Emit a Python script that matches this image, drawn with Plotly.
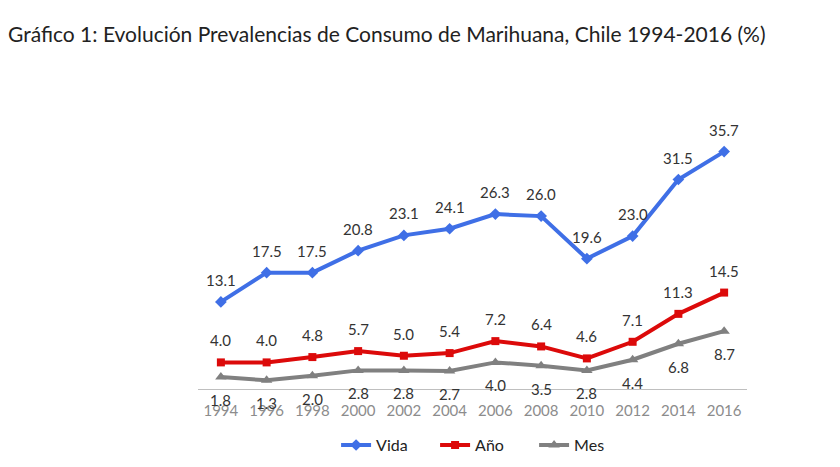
import plotly.graph_objects as go

years = ["1994", "1996", "1998", "2000", "2002", "2004", "2006", "2008", "2010", "2012", "2014", "2016"]
vida = [13.1, 17.5, 17.5, 20.8, 23.1, 24.1, 26.3, 26.0, 19.6, 23.0, 31.5, 35.7]
anio = [4.0, 4.0, 4.8, 5.7, 5.0, 5.4, 7.2, 6.4, 4.6, 7.1, 11.3, 14.5]
mes = [1.8, 1.3, 2.0, 2.8, 2.8, 2.7, 4.0, 3.5, 2.8, 4.4, 6.8, 8.7]

FONT = "Lato"
fig = go.Figure()
series = [
    ("Vida", vida, "#3f6fe6", "diamond", 9, 22),
    ("Año", anio, "#dc0a0a", "square", 8, 22),
    ("Mes", mes, "#808080", "triangle-up", 10, -23),
]
for name, vals, color, sym, msize, shift in series:
    fig.add_trace(go.Scatter(
        x=years, y=vals, name=name, mode="lines+markers",
        line=dict(color=color, width=4),
        marker=dict(symbol=sym, size=msize, color=color),
    ))
    for i, v in enumerate(vals):
        fig.add_annotation(x=i, y=v, text=f"{v:.1f}", showarrow=False,
                           yshift=shift, font=dict(family=FONT, size=15, color="#333333"))

fig.update_layout(
    width=840, height=467,
    paper_bgcolor="white", plot_bgcolor="white",
    margin=dict(l=190, r=101, t=115, b=86),
    title=dict(text="Gráfico 1: Evolución Prevalencias de Consumo de Marihuana, Chile 1994-2016 (%)",
               x=0.0, xanchor="left", y=0.943, yanchor="middle",
               font=dict(family=FONT, size=21, color="#222222")),
    xaxis=dict(type="category", categoryorder="array", categoryarray=years, range=[-0.5, 11.5],
               showgrid=False, showline=True, linecolor="#bfbfbf", linewidth=1, automargin=False,
               ticks="", ticklabelstandoff=8,
               tickfont=dict(family=FONT, size=15, color="#8c8c8c"), zeroline=False),
    yaxis=dict(range=[0, 40], visible=False, showgrid=False, zeroline=False),
    legend=dict(orientation="h", x=0.522, xanchor="center", yref="container", y=0.064, yanchor="middle",
                entrywidth=54, font=dict(family=FONT, size=16, color="#222222")),
    showlegend=True,
)
fig.write_html("out.html")
